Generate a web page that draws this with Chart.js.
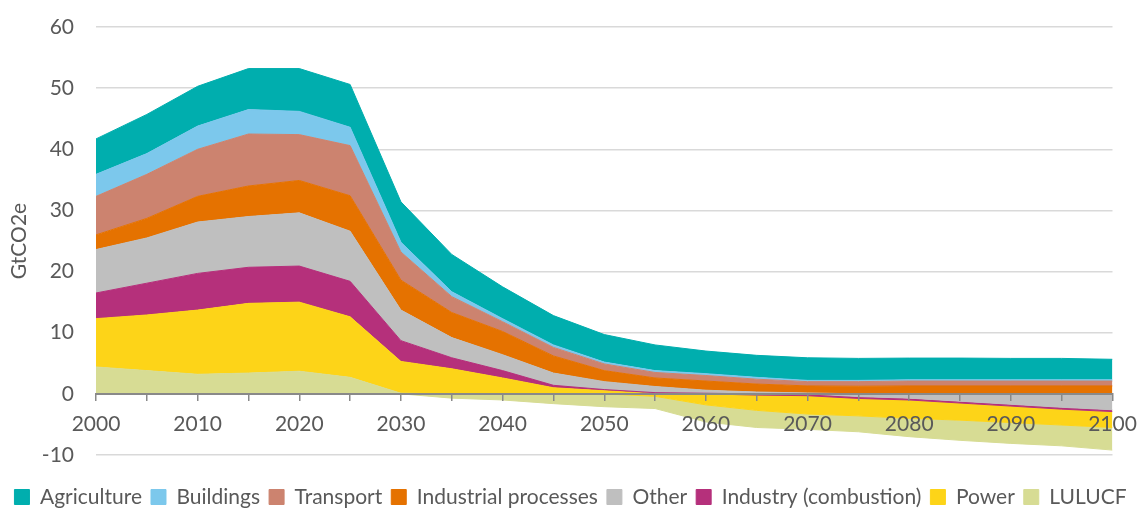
<!DOCTYPE html>
<html>
<head>
<meta charset="utf-8">
<script src="https://cdn.jsdelivr.net/npm/chart.js@4.4.1/dist/chart.umd.min.js"></script>
<style>
  html, body { margin: 0; padding: 0; background: #ffffff; }
  canvas { display: block; }
</style>
</head>
<body>
<canvas id="c" width="1141" height="509"></canvas>
<script>
// ---- data (GtCO2e) ----
const years = [2000,2005,2010,2015,2020,2025,2030,2035,2040,2045,2050,2055,2060,2065,2070,2075,2080,2085,2090,2095,2100];
const yTicks = [-10,0,10,20,30,40,50,60];
const xLabelYears = [2000,2010,2020,2030,2040,2050,2060,2070,2080,2090,2100];

const lulucf      = [4.4,3.8,3.2,3.4,3.7,2.7,0.1,-0.7,-1.0,-1.6,-2.1,-2.0,-2.8,-2.8,-2.5,-2.6,-3.0,-3.3,-3.4,-3.4,-3.7];
const power       = [7.9,9.1,10.5,11.4,11.3,9.9,5.2,4.1,2.6,1.0,0.5,-0.4,-1.8,-2.5,-3.0,-2.85,-3.0,-2.8,-2.7,-2.6,-2.6];
const industry    = [4.2,5.2,6.0,5.9,5.9,5.8,3.4,1.8,1.2,0.4,0.2,0.2,0.1,-0.2,-0.3,-0.3,-0.3,-0.3,-0.3,-0.3,-0.3];
const other       = [7.1,7.4,8.4,8.3,8.7,8.2,5.0,3.3,2.6,2.0,1.3,1.0,0.5,0.3,0.15,-0.45,-0.7,-1.2,-1.7,-2.2,-2.6];
const indProc     = [2.4,3.2,4.2,5.0,5.3,5.8,4.9,4.1,3.8,2.8,1.8,1.4,1.5,1.3,1.15,1.25,1.3,1.3,1.3,1.3,1.3];
const transport   = [6.3,7.2,7.7,8.5,7.5,8.2,4.6,2.6,1.6,1.4,1.1,0.9,0.9,0.8,0.7,0.75,0.8,0.8,0.8,0.8,0.8];
const buildings   = [3.6,3.4,3.8,4.0,3.8,3.0,1.6,0.8,0.5,0.4,0.3,0.3,0.3,0.3,0.2,0.2,0.2,0.2,0.2,0.2,0.2];
const agriculture = [5.8,6.4,6.5,6.7,7.0,7.0,6.6,6.1,5.2,4.8,4.5,4.2,3.7,3.6,3.7,3.6,3.55,3.55,3.5,3.5,3.35];

// stacking order from the zero line outward (legend shows the reverse)
const seriesNames  = ['LULUCF','Power','Industry (combustion)','Other','Industrial processes','Transport','Buildings','Agriculture'];
const seriesValues = [lulucf, power, industry, other, indProc, transport, buildings, agriculture];
const seriesColors = ['#D7DC94','#FDD418','#B5307B','#BFBFBF','#E57200','#CC836F','#7CC8EC','#00AEAE'];
// negative parts stack downward from zero in this order
const negOrder = ['Other','Industry (combustion)','Power','LULUCF'];

const FONT = 'Lato, "Open Sans", sans-serif';
const TXT = '#595959';

const datasets = [];
seriesNames.forEach((name, i) => {
  datasets.push({
    label: name,
    data: years.map((yr, k) => ({x: yr, y: Math.max(seriesValues[i][k], 0)})),
    backgroundColor: seriesColors[i],
    borderColor: seriesColors[i],
    borderWidth: 1,
    stack: 'pos',
    fill: i === 0 ? 'origin' : i - 1,
    pointRadius: 0,
    tension: 0
  });
});
const negStart = datasets.length;
negOrder.forEach((name, j) => {
  const i = seriesNames.indexOf(name);
  datasets.push({
    label: name + ' (neg)',
    data: years.map((yr, k) => ({x: yr, y: Math.min(seriesValues[i][k], 0)})),
    backgroundColor: seriesColors[i],
    borderColor: seriesColors[i],
    borderWidth: 1,
    stack: 'neg',
    fill: j === 0 ? 'origin' : negStart + j - 1,
    pointRadius: 0,
    tension: 0
  });
});

new Chart(document.getElementById('c'), {
  type: 'line',
  data: { datasets },
  options: {
    responsive: false,
    animation: false,
    layout: { padding: { top: 27, right: 0, left: 0, bottom: -8.5 } },
    plugins: {
      tooltip: { enabled: false },
      legend: {
        position: 'bottom',
        title: { display: true, text: ' ', font: { size: 1 }, padding: { top: 10.5, bottom: 10.8 } },
        labels: {
          font: { family: FONT, size: 21 },
          color: TXT,
          boxWidth: 15,
          boxHeight: 15,
          padding: 9,
          filter: (item) => item.datasetIndex < negStart,
          sort: (a, b) => b.datasetIndex - a.datasetIndex
        }
      }
    },
    scales: {
      x: {
        type: 'linear',
        position: { y: 0 },
        min: years[0],
        max: years[years.length - 1],
        afterBuildTicks: (scale) => { scale.ticks = years.map(v => ({value: v})); },
        afterFit: (scale) => { scale.paddingRight = 28.5; },
        ticks: {
          z: 1,
          autoSkip: false,
          maxRotation: 0,
          color: TXT,
          padding: 12,
          font: { family: FONT, size: 21 },
          callback: (v) => xLabelYears.includes(v) ? String(v) : ''
        },
        grid: { z: 1, drawOnChartArea: false, drawTicks: true, tickLength: 6, color: '#898989', lineWidth: 1.5 },
        border: { z: 1, display: true, color: '#898989', width: 2 }
      },
      y: {
        stacked: true,
        min: yTicks[0],
        max: yTicks[yTicks.length - 1],
        afterBuildTicks: (scale) => { scale.ticks = yTicks.map(v => ({value: v})); },
        afterFit: (scale) => { scale.width = 96; scale.paddingTop = 0; scale.paddingBottom = 0; },
        ticks: { color: TXT, padding: 22, font: { family: FONT, size: 21 } },
        grid: {
          drawTicks: false,
          lineWidth: 1.5,
          color: (ctx) => (ctx.tick && ctx.tick.value === 0) ? 'rgba(0,0,0,0)' : '#D9D9D9'
        },
        border: { display: false },
        title: { display: true, text: 'GtCO2e', color: TXT, font: { family: FONT, size: 21 }, padding: { top: 7, bottom: 0 } }
      }
    }
  }
});
</script>
</body>
</html>
